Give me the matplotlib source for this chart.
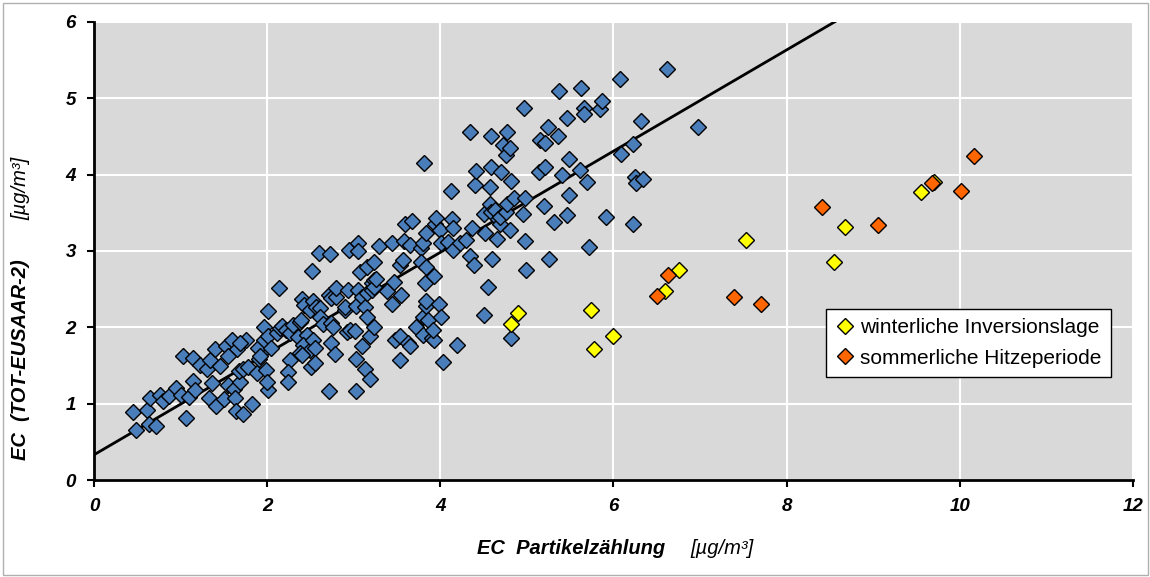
import matplotlib.pyplot as plt
from matplotlib.patches import Rectangle

# EC Partikelzaehlung (x) vs EC TOT-EUSAAR-2 (y), normal days
blue_x = [0.45, 0.49, 0.61, 0.64, 0.72, 0.65, 0.76, 0.80, 0.87, 0.95, 1.00,
          1.06, 1.03, 1.14, 1.10, 1.14, 1.17, 1.22, 1.30, 1.34, 1.40, 1.46, 1.53, 1.60, 1.65, 1.76,
          1.55, 1.36, 1.33, 1.41, 1.50, 1.55, 1.62, 1.69, 1.63, 1.64, 1.72, 1.83, 1.67, 1.72, 1.78,
          1.88, 1.91, 1.96, 1.69, 1.90, 1.92, 1.96, 1.96, 1.99, 2.01, 2.00, 2.01,
          2.14, 2.01, 2.05, 2.11, 2.15, 2.17, 2.22, 2.26, 2.30, 2.38, 2.39, 2.36, 2.40, 2.43, 2.46,
          2.42, 2.49, 2.49, 2.53, 2.53, 2.55, 2.57, 2.61, 2.61, 2.65, 2.74, 2.76, 2.38, 2.40, 2.26,
          2.24, 2.24, 2.51, 2.55, 2.74, 2.78, 2.71, 3.03, 2.52, 2.60, 2.73, 2.72, 2.74, 2.80, 2.80,
          2.90, 2.90, 2.93, 2.92, 2.96, 2.94,
          3.01, 3.03, 3.03, 3.05, 3.05, 3.05, 3.07, 3.09, 3.09, 3.13, 3.13, 3.15, 3.15, 3.15, 3.19,
          3.19, 3.21, 3.21, 3.23, 3.24, 3.24, 3.23, 3.26, 3.29, 3.38, 3.44, 3.44, 3.46, 3.48, 3.53,
          3.53, 3.55, 3.54, 3.57, 3.58, 3.59, 3.63, 3.65, 3.65, 3.67, 3.72, 3.78, 3.78, 3.80, 3.80,
          3.80, 3.81, 3.82, 3.84, 3.84, 3.84, 3.84, 3.86, 3.90, 3.93, 3.93, 3.92, 3.94, 3.95, 3.98,
          4.00, 4.01, 4.01, 4.03, 4.09, 4.12, 4.13, 4.15, 4.15, 4.19, 4.23, 4.30, 4.34, 4.34, 4.37,
          4.39, 4.40, 4.41, 4.50, 4.50, 4.52, 4.55, 4.57, 4.57, 4.58, 4.59, 4.59, 4.60, 4.63, 4.66,
          4.67, 4.69, 4.69, 4.70, 4.72, 4.76, 4.76, 4.77, 4.77, 4.80, 4.80, 4.82, 4.82, 4.85, 4.97,
          4.96, 4.98, 4.98, 4.99,
          5.14, 5.15, 5.20, 5.21, 5.21, 5.24, 5.25, 5.31, 5.36, 5.37, 5.40, 5.46, 5.46, 5.49, 5.49,
          5.61, 5.62, 5.66, 5.66, 5.70, 5.72, 5.84, 5.87, 5.91, 6.07, 6.09, 6.23, 6.23, 6.25, 6.26,
          6.32, 6.34, 6.62, 6.98]
blue_y = [0.89, 0.65, 0.92, 0.74, 0.71, 1.08, 1.11, 1.03, 1.10, 1.21, 1.11,
          0.81, 1.62, 1.60, 1.09, 1.30, 1.18, 1.51, 1.45, 1.57, 1.71, 1.49, 1.75, 1.83, 1.71, 1.84,
          1.62, 1.27, 1.07, 0.97, 1.06, 1.24, 1.19, 1.29, 1.07, 0.90, 0.86, 1.00, 1.43, 1.45, 1.48,
          1.40, 1.59, 1.70, 1.80, 1.73, 1.62, 1.83, 2.01, 1.44, 1.18, 1.29, 2.22,
          2.52, 1.88, 1.73, 1.92, 1.99, 2.02, 1.97, 1.92, 2.03, 2.07, 2.10, 1.87, 2.37, 2.29, 1.90,
          1.77, 2.23, 1.70, 1.83, 2.34, 1.73, 2.26, 2.25, 2.14, 2.05, 2.06, 2.01, 1.66, 1.64, 1.57,
          1.42, 1.29, 1.48, 1.53, 1.79, 1.65, 1.16, 1.16, 2.74, 2.98, 2.96, 2.42, 2.38, 2.40, 2.52,
          2.23, 2.27, 2.49, 1.94, 1.96, 3.01,
          1.95, 2.28, 1.59, 3.11, 3.00, 2.49, 2.73, 2.40, 1.76, 1.45, 2.27, 2.14, 2.45, 2.79, 1.88,
          1.32, 2.49, 2.58, 2.62, 2.53, 2.01, 2.86, 2.63, 3.06, 2.47, 3.11, 2.31, 2.60, 1.83, 1.88,
          2.82, 2.42, 1.57, 2.88, 3.13, 3.35, 1.80, 1.75, 3.08, 3.39, 2.01, 3.04, 2.85, 2.14, 1.90,
          3.10, 4.15, 2.58, 2.79, 3.23, 2.28, 2.34, 2.10, 1.86, 1.83, 2.67, 1.97, 3.36, 3.43, 2.30,
          3.28, 2.14, 3.11, 1.55, 3.12, 3.78, 3.42, 3.30, 3.01, 1.77, 3.11, 3.14, 4.56, 2.93, 3.30,
          2.82, 3.87, 4.05, 3.49, 2.16, 3.23, 2.53, 3.84, 3.62, 4.10, 4.51, 3.51, 2.90, 3.54, 3.16,
          3.42, 3.35, 3.45, 4.04, 4.39, 4.26, 3.51, 4.56, 3.62, 4.35, 3.27, 3.92, 1.86, 3.70, 4.87,
          3.49, 3.13, 3.69, 2.75,
          4.03, 4.45, 3.59, 4.10, 4.42, 4.62, 2.89, 3.38, 4.51, 5.09, 4.00, 4.74, 3.47, 4.20, 3.74,
          4.06, 5.13, 4.87, 4.80, 3.91, 3.05, 4.86, 4.97, 3.44, 5.25, 4.27, 4.40, 3.36, 3.97, 3.89,
          4.70, 3.94, 5.38, 4.63]

# winterliche Inversionslage
winter_x = [4.82, 4.90, 5.74, 5.77, 6.00, 6.59, 6.76, 7.53, 8.55, 8.67, 9.55, 9.70]
winter_y = [2.04, 2.19, 2.23, 1.72, 1.89, 2.48, 2.75, 3.14, 2.85, 3.31, 3.77, 3.90]

# sommerliche Hitzeperiode
summer_x = [6.50, 6.63, 7.39, 7.70, 8.41, 9.06, 9.68, 10.01, 10.16]
summer_y = [2.41, 2.69, 2.40, 2.30, 3.58, 3.34, 3.89, 3.79, 4.25]

# regression line
fit_slope = 0.663
fit_intercept = 0.33

fig = plt.figure(figsize=(11.5, 5.77), dpi=100)
ax = fig.add_axes([0.0817, 0.1681, 0.9035, 0.7938])
ax.set_facecolor('#d9d9d9')

fig.patches.append(Rectangle((0.003, 0.004), 0.995, 0.99, transform=fig.transFigure,
                             fill=False, edgecolor='#b0b0b0', linewidth=1))

ax.plot([0, 12], [fit_intercept, fit_intercept + fit_slope * 12], color='black', lw=2, zorder=2)

ms = 8
ax.plot(blue_x, blue_y, marker='D', linestyle='None', markersize=ms, markerfacecolor='#4a7ebb',
        markeredgecolor='black', markeredgewidth=1, zorder=3)
ax.plot(winter_x, winter_y, marker='D', linestyle='None', markersize=ms, markerfacecolor='#ffff00',
        markeredgecolor='black', markeredgewidth=1, zorder=4, label='winterliche Inversionslage')
ax.plot(summer_x, summer_y, marker='D', linestyle='None', markersize=ms, markerfacecolor='#ff6600',
        markeredgecolor='black', markeredgewidth=1, zorder=4, label='sommerliche Hitzeperiode')

ax.set_xlim(0, 12)
ax.set_ylim(0, 6)
ax.set_xticks(range(0, 13, 2))
ax.set_yticks(range(0, 7))
ax.grid(True, color='white', linewidth=1.5)
ax.set_axisbelow(True)

for s in ['top', 'right']:
    ax.spines[s].set_visible(False)
for s in ['left', 'bottom']:
    ax.spines[s].set_linewidth(2)
    ax.spines[s].set_color('black')

ax.tick_params(direction='out', length=5, width=1.5, pad=8)
for lab in ax.get_xticklabels() + ax.get_yticklabels():
    lab.set_fontfamily('Liberation Sans')
    lab.set_fontweight('bold')
    lab.set_fontstyle('italic')
    lab.set_fontsize(13.5)

leg = ax.legend(loc='lower left', bbox_to_anchor=(0.7045, 0.225), prop={'family': 'Liberation Sans', 'size': 15},
                frameon=True, fancybox=False, edgecolor='black', facecolor='white', framealpha=1,
                handletextpad=0.3, handlelength=0.9, borderpad=0.45, labelspacing=0.55, borderaxespad=0)
leg.get_frame().set_linewidth(1)

# axis titles (bold part + plain unit part)
fig.text(0.578, 0.050, 'EC  Partikelzählung', ha='right', va='center', fontsize=14.5,
         family='Liberation Sans', weight='bold', style='italic')
fig.text(0.600, 0.050, '[µg/m³]', ha='left', va='center', fontsize=14.5,
         family='Liberation Sans', style='italic')
fig.text(0.018, 0.203, 'EC  (TOT-EUSAAR-2)', ha='center', va='bottom', rotation=90, fontsize=14.5,
         family='Liberation Sans', weight='bold', style='italic')
fig.text(0.018, 0.619, '[µg/m³]', ha='center', va='bottom', rotation=90, fontsize=14.5,
         family='Liberation Sans', style='italic')

plt.savefig('out.png', dpi=100)
